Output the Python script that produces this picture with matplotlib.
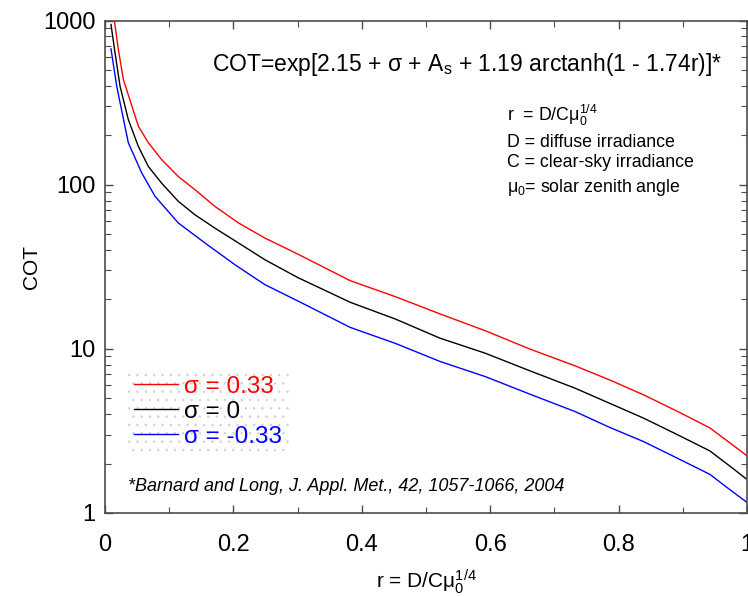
import matplotlib
matplotlib.use("Agg")
import matplotlib.pyplot as plt
from matplotlib.ticker import FixedLocator, NullFormatter, LogLocator

plt.rcParams['font.family'] = ['Liberation Sans', 'DejaVu Sans']
plt.rcParams['mathtext.fontset'] = 'custom'
plt.rcParams['mathtext.rm'] = 'Liberation Sans'
plt.rcParams['mathtext.it'] = 'Liberation Sans:italic'
plt.rcParams['hatch.linewidth'] = 0.6

# values
r_red = [0.0145, 0.0208, 0.0286, 0.0519, 0.0675, 0.0883, 0.1142, 0.140, 0.171, 0.208, 0.249,
         0.300, 0.382, 0.452, 0.522, 0.592, 0.662, 0.732, 0.787, 0.839, 0.890, 0.942, 0.974, 1.000]
cot_red = [1000, 665, 437, 227, 180, 142, 112, 93.3, 73.8, 58.4, 47.3,
           37.8, 26.0, 20.8, 16.3, 12.9, 9.96, 7.88, 6.44, 5.24, 4.19, 3.3, 2.66, 2.23]

r_black = [0.0093, 0.0156, 0.0234, 0.0363, 0.0519, 0.0675, 0.0883, 0.1142, 0.140, 0.171, 0.208, 0.249,
           0.300, 0.382, 0.452, 0.522, 0.592, 0.662, 0.732, 0.787, 0.839, 0.890, 0.942, 0.974, 1.000]
cot_black = [945, 635, 398, 249, 171, 129, 102, 79.1, 65.6, 54.4, 44.1, 34.9,
             27.2, 19.2, 15.2, 11.6, 9.41, 7.34, 5.76, 4.64, 3.78, 3.02, 2.39, 1.92, 1.60]

r_blue = [0.0093, 0.0182, 0.0363, 0.0571, 0.0779, 0.1142, 0.1558, 0.2025, 0.249,
          0.300, 0.382, 0.452, 0.522, 0.592, 0.662, 0.732, 0.787, 0.839, 0.890, 0.942, 0.974, 1.000]
cot_blue = [672, 398, 180, 118, 84.9, 58.4, 44.1, 32.5, 24.6,
            19.6, 13.5, 10.8, 8.37, 6.78, 5.29, 4.15, 3.31, 2.72, 2.17, 1.72, 1.38, 1.16]

labels = ['\u03c3 = 0.33', '\u03c3 = 0', '\u03c3 = -0.33']
colors = ['red', 'black', 'blue']

fig = plt.figure(figsize=(7.48, 5.96), dpi=100)
ax = fig.add_axes([0.1404, 0.1393, 0.8583, 0.8263])

ax.plot(r_red, cot_red, color=colors[0], lw=1.0, label=labels[0])
ax.plot(r_black, cot_black, color=colors[1], lw=1.0, label=labels[1])
ax.plot(r_blue, cot_blue, color=colors[2], lw=1.0, label=labels[2])

ax.set_yscale('log')
ax.set_xlim(0, 1)
ax.set_ylim(1, 1000)

ax.set_xticks([0, 0.2, 0.4, 0.6, 0.8, 1.0])
ax.set_xticklabels(['0', '0.2', '0.4', '0.6', '0.8', '1'])
ax.xaxis.set_minor_locator(FixedLocator([0.1, 0.3, 0.5, 0.7, 0.9]))
ax.set_yticks([1, 10, 100, 1000])
ax.set_yticklabels(['1', '10', '100', '1000'])
ax.yaxis.set_minor_locator(LogLocator(base=10, subs=range(2, 10)))
ax.yaxis.set_minor_formatter(NullFormatter())

ax.tick_params(which='both', direction='in', top=True, right=True, colors='0.3',
               labelcolor='black')
ax.tick_params(which='major', length=6, width=1)
ax.tick_params(which='minor', length=4, width=0.8)
ax.tick_params(axis='x', which='major', labelsize=17, pad=15)
ax.tick_params(axis='y', which='major', labelsize=17, pad=7)
for s in ax.spines.values():
    s.set_color('0.3')
    s.set_linewidth(1.2)

ax.set_xlabel(r'r = D/C$\mathrm{\mu}_0^{1/4}$', fontsize=15, labelpad=8)
ax.set_ylabel('COT', fontsize=15, labelpad=1)

ax.text(0.167, 0.910, 'COT=exp[2.15 + \u03c3 + A$_{\\rm s}$ + 1.19 arctanh(1 - 1.74r)]*',
        transform=ax.transAxes, fontsize=16.5, va='center', ha='left')
defs = [r'r  = D/C$\mathrm{\mu}_0^{1/4}$', 'D = diffuse irradiance',
        'C = clear-sky irradiance', r'$\mathrm{\mu}_0$= solar zenith angle']
for t, yy in zip(defs, [0.808, 0.753, 0.711, 0.660]):
    ax.text(0.626, yy, t, transform=ax.transAxes, fontsize=12.8, va='center', ha='left')

ax.text(0.036, 0.053, '*Barnard and Long, J. Appl. Met., 42, 1057-1066, 2004',
        transform=ax.transAxes, fontsize=13, style='italic', va='center', ha='left')

leg = ax.legend(loc='lower left', bbox_to_anchor=(0.034, 0.118), borderaxespad=0,
                fontsize=17.5, handlelength=1.8, handletextpad=0.25, labelspacing=0.12,
                borderpad=0.3, labelcolor='linecolor', fancybox=False)
frame = leg.get_frame()
frame.set_hatch('..')
frame.set_edgecolor('0.8')
frame.set_linewidth(0)
frame.set_facecolor('none')

fig.savefig('out.png', dpi=100)
